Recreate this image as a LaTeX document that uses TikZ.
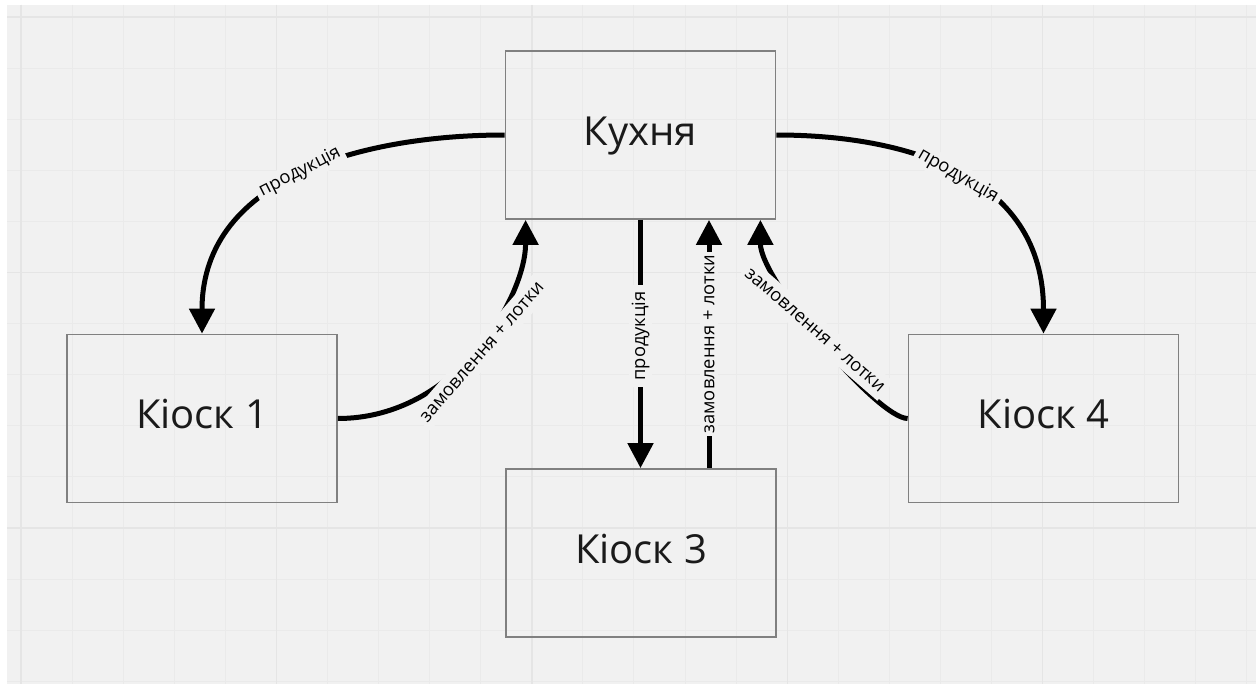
\documentclass[tikz,border=0pt]{standalone}
\usepackage{fontspec}
\setmainfont{Open Sans}
\usetikzlibrary{arrows.meta}
\definecolor{canvas}{HTML}{F1F1F1}
\definecolor{gridminor}{HTML}{EAEAEA}
\definecolor{gridmajor}{HTML}{E5E5E5}
\definecolor{boxline}{HTML}{808080}
\definecolor{textdark}{HTML}{1A1A1A}
\begin{document}
\begin{tikzpicture}[x=1pt,y=-1pt,
  box/.style={draw=boxline, line width=1.8pt, minimum width=270pt, minimum height=168pt,
    inner sep=0pt, text=textdark, font=\fontsize{40}{48}\selectfont,
    text height=29pt, text depth=9pt},
  conn/.style={line width=5pt, -{Triangle[length=25pt,width=25pt]}},
  lbl/.style={fill=canvas, inner xsep=4pt, inner ysep=3pt, text=black,
    font=\fontsize{18.3}{21}\selectfont},
  widelbl/.style={lbl, inner ysep=7pt},
  minorline/.style={draw=gridminor, line width=1pt},
  majorline/.style={draw=gridmajor, line width=1.4pt}]
% page and canvas
\useasboundingbox (0,0) rectangle (1256,685);
\fill[white] (0,0) rectangle (1256,685);
\fill[canvas] (7,5) rectangle (1256,684);
% grid
\foreach \i in {0,...,24} \draw[minorline] ({21+51.08*\i},5) -- ({21+51.08*\i},684);
\foreach \j in {0,...,13} \draw[minorline] (7,{17+51.1*\j}) -- (1256,{17+51.1*\j});
\foreach \i in {0,5,...,20} \draw[majorline] ({21+51.08*\i},5) -- ({21+51.08*\i},684);
\foreach \j in {0,5,10} \draw[majorline] (7,{17+51.1*\j}) -- (1256,{17+51.1*\j});
% boxes
\node[box] (kitchen) at (640.5,135) {Кухня};
\node[box] (k1) at (202,418.5) {Кіоск 1};
\node[box] (k3) at (641,553) {Кіоск 3};
\node[box] (k4) at (1043.5,418.5) {Кіоск 4};
% attachment points on the kitchen and kiosk 3
\coordinate (k1in) at ([xshift=21pt]kitchen.south west);
\coordinate (k4in) at ([xshift=-16pt]kitchen.south east);
\coordinate (k3out) at ([xshift=68pt]k3.north);
\coordinate (k3in) at (k3out |- kitchen.south);
\coordinate (k3down) at (kitchen.south |- k3.north);
% connectors
\draw[conn] (kitchen.west) .. controls +(-135,0) and +(0,-159) .. (k1.north);
\draw[conn] (k1.east) .. controls +(119,0) and +(0,76) .. (k1in);
\draw[conn] (kitchen.south) -- (k3down);
\draw[conn] (k3out) -- (k3in);
\draw[conn] (kitchen.east) .. controls +(129,0) and +(0,-159) .. (k4.north);
\draw[conn] (k4.west) .. controls +(-30,0) and +(0,60) .. (k4in);
% labels
\node[lbl, rotate=27] (l1) at (300,172) {продукція};
\node[widelbl, rotate=49] (l2) at (482,352) {замовлення + лотки};
\node[lbl, rotate=90, inner xsep=6pt] (l3) at (640.5,336) {продукція};
\node[lbl, rotate=90, inner xsep=3pt] (l4) at (709,344) {замовлення + лотки};
\node[lbl, rotate=-30] (l5) at (958,176) {продукція};
\node[widelbl, rotate=-41] (l6) at (815,330) {замовлення + лотки};
\end{tikzpicture}
\end{document}
